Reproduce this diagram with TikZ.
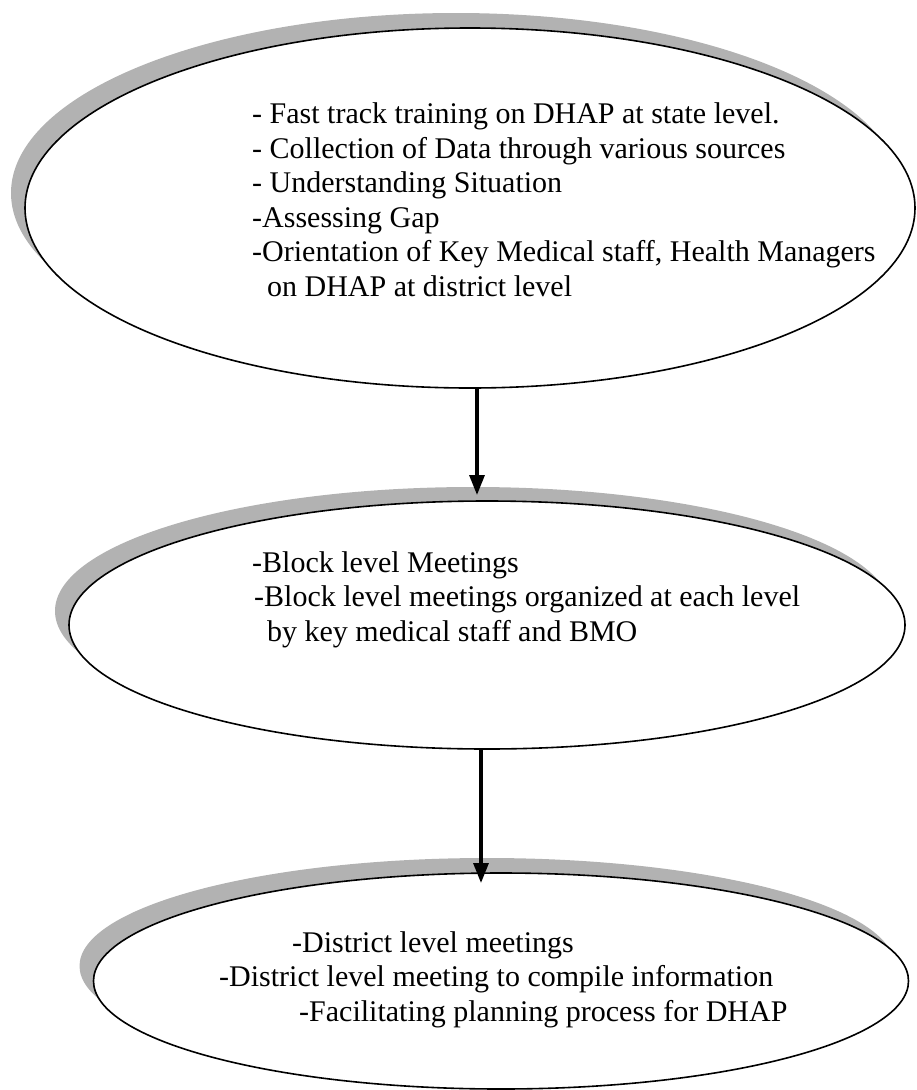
\documentclass[tikz,border=0pt]{standalone}
\usepackage{fontspec}
\setmainfont{Liberation Serif}
\usetikzlibrary{shapes.geometric,arrows.meta}
\begin{document}
\begin{tikzpicture}[x=1pt,y=-1pt,
  bubble/.style={ellipse,draw=black,line width=1.6pt,fill=white,inner sep=0pt},
  shade/.style={ellipse,fill=black!30,draw=none,inner sep=0pt},
  txt/.style={anchor=base west,align=left,inner sep=0pt,font=\fontsize{30}{34.5}\selectfont},
  arr/.style={line width=3.2pt,-{Triangle[width=15pt,length=20pt]}}]
\useasboundingbox (0,0) rectangle (917,1090);
% shadows
\node[shade,minimum width=890pt,minimum height=360pt] (s1) at (456,193) {};
\node[shade,minimum width=836pt,minimum height=248pt] (s2) at (473,611) {};
\node[shade,minimum width=815pt,minimum height=216pt] (s3) at (487,966) {};
% bubbles
\node[bubble,minimum width=890pt,minimum height=360pt] (e1) at (470,208) {};
\node[bubble,minimum width=836pt,minimum height=248pt] (e2) at (487,625) {};
\node[bubble,minimum width=815pt,minimum height=216pt] (e3) at (501,981) {};
% texts (anchored at the baseline of the last line)
\node[txt] (t1) at (252,296) {- Fast track training on DHAP at state level.\\
- Collection of Data through various sources\\
- Understanding Situation\\
-Assessing Gap\\
-Orientation of Key Medical staff, Health Managers\\
\hspace*{15pt}on DHAP at district level};
\node[txt] (t2) at (252,641) {-Block level Meetings\\
\hspace*{2pt}-Block level meetings organized at each level\\
\hspace*{15pt}by key medical staff and BMO};
\node[txt] (t3) at (219,1021) {\hspace*{73pt}-District level meetings\\
-District level meeting to compile information\\
\hspace*{80pt}-Facilitating planning process for DHAP};
% arrows
\coordinate (tip1) at (477,495);
\coordinate (tip2) at (481,883);
\draw[arr] (e1.south -| tip1) -- (tip1);
\draw[arr] (e2.south -| tip2) -- (tip2);
\end{tikzpicture}
\end{document}
